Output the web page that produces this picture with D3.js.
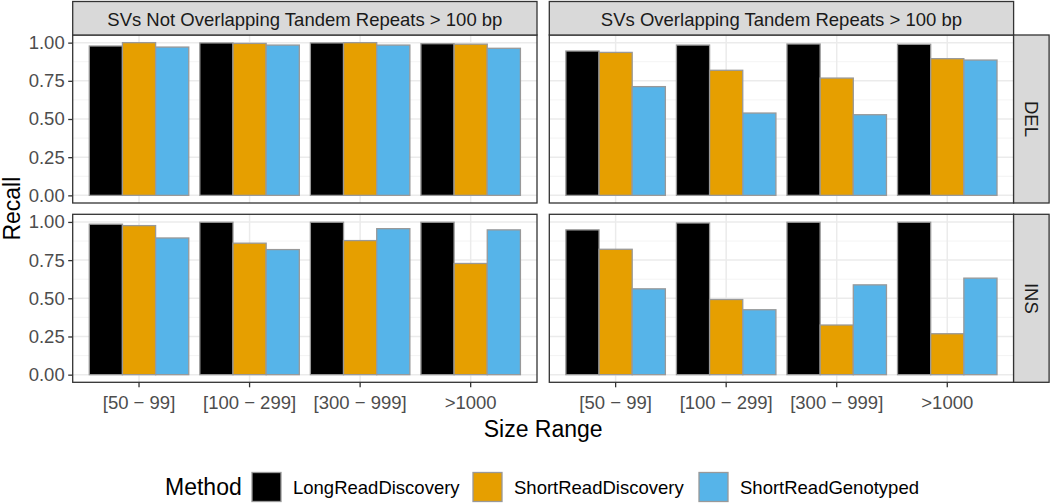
<!DOCTYPE html>
<html><head><meta charset="utf-8">
<script src="https://cdn.jsdelivr.net/npm/d3@7"></script>
<style>body{margin:0;background:#fff}svg{display:block;font-family:"Liberation Sans",Arial,sans-serif}</style>
</head><body><svg id="c" width="1050" height="503"></svg>
<script>
const sizeRanges = ["[50 − 99]", "[100 − 299]", "[300 − 999]", ">1000"];
const methods = ["LongReadDiscovery", "ShortReadDiscovery", "ShortReadGenotyped"];
const methodColors = ["#000000", "#E69F00", "#56B4E9"];
const columns = ["SVs Not Overlapping Tandem Repeats > 100 bp", "SVs Overlapping Tandem Repeats > 100 bp"];
const rows = ["DEL", "INS"];
const yTicks = [0, 0.25, 0.5, 0.75, 1.0];
const yTickLabels = ["0.00", "0.25", "0.50", "0.75", "1.00"];
// recall values: [method][sizeRange]
const delNonTR = [[0.978, 0.998, 0.998, 0.993], [1.000, 0.995, 1.000, 0.990], [0.971, 0.984, 0.984, 0.963]];
const delTR    = [[0.945, 0.984, 0.991, 0.989], [0.936, 0.819, 0.768, 0.895], [0.712, 0.539, 0.528, 0.886]];
const insNonTR = [[0.985, 0.998, 0.998, 0.998], [0.976, 0.861, 0.878, 0.728], [0.895, 0.819, 0.956, 0.948]];
const insTR    = [[0.948, 0.993, 0.998, 0.998], [0.821, 0.492, 0.325, 0.268], [0.562, 0.425, 0.588, 0.632]];
const panelData = [[delNonTR, delTR], [insNonTR, insTR]];

const svg = d3.select("#c");
const FONT = "Liberation Sans, Arial, sans-serif";
const colX = [72.7, 549.3], panelW = 464.3;
const rowY = [35, 214.3], panelH = 168;
const stripTop = 1.5, stripW = 35.5;

const x = d3.scaleBand().domain(sizeRanges).range([0, panelW]).paddingInner(0).paddingOuter(0.1);
const step = x.step();
const xm = d3.scaleBand().domain(methods).range([-0.45 * step, 0.45 * step]);
const y = d3.scaleLinear().domain([-0.05, 1.05]).range([panelH, 0]);
const color = d3.scaleOrdinal().domain(methods).range(methodColors);
const minorTicks = [0.125, 0.375, 0.625, 0.875];

rows.forEach((rowName, r) => {
  columns.forEach((colName, c) => {
    const g = svg.append("g").attr("transform", `translate(${colX[c]},${rowY[r]})`);
    g.append("rect").attr("width", panelW).attr("height", panelH).attr("fill", "#fff");
    g.selectAll(".ymin").data(minorTicks).join("line")
      .attr("x1", 0).attr("x2", panelW).attr("y1", d => y(d)).attr("y2", d => y(d))
      .attr("stroke", "#f2f2f2").attr("stroke-width", 0.9);
    g.selectAll(".ymaj").data(yTicks).join("line")
      .attr("x1", 0).attr("x2", panelW).attr("y1", d => y(d)).attr("y2", d => y(d))
      .attr("stroke", "#ebebeb").attr("stroke-width", 1.5);
    g.selectAll(".xmaj").data(sizeRanges).join("line")
      .attr("x1", d => x(d) + x.bandwidth() / 2).attr("x2", d => x(d) + x.bandwidth() / 2)
      .attr("y1", 0).attr("y2", panelH)
      .attr("stroke", "#ebebeb").attr("stroke-width", 1.5);
    const vals = panelData[r][c];
    const bars = [];
    methods.forEach((m, mi) => sizeRanges.forEach((s, si) => bars.push({m, s, v: vals[mi][si]})));
    g.selectAll(".bar").data(bars).join("rect")
      .attr("x", d => x(d.s) + x.bandwidth() / 2 + xm(d.m))
      .attr("width", xm.bandwidth())
      .attr("y", d => y(d.v))
      .attr("height", d => y(0) - y(d.v))
      .attr("fill", d => color(d.m))
      .attr("stroke", "#999999").attr("stroke-width", 1.3);
    g.append("rect").attr("width", panelW).attr("height", panelH)
      .attr("fill", "none").attr("stroke", "#333333").attr("stroke-width", 1.3);

    if (c === 0) {
      const ax = g.append("g").call(d3.axisLeft(y).tickValues(yTicks).tickFormat((d, i) => yTickLabels[i]).tickSize(4.5).tickPadding(3.5));
      ax.select(".domain").remove();
      ax.selectAll("line").attr("stroke", "#333333").attr("stroke-width", 1.3);
      ax.selectAll("text").attr("fill", "#4d4d4d").style("font-size", "18.5px").style("font-family", FONT);
    }
    if (r === rows.length - 1) {
      const ax = g.append("g").attr("transform", `translate(0,${panelH})`)
        .call(d3.axisBottom(x).tickSize(5).tickPadding(9));
      ax.select(".domain").remove();
      ax.selectAll("line").attr("stroke", "#333333").attr("stroke-width", 1.3);
      ax.selectAll("text").attr("fill", "#4d4d4d").style("font-size", "18.5px").style("font-family", FONT);
    }
    if (r === 0) {
      svg.append("rect").attr("x", colX[c]).attr("y", stripTop).attr("width", panelW).attr("height", rowY[0] - stripTop)
        .attr("fill", "#d9d9d9").attr("stroke", "#333333").attr("stroke-width", 1.3);
      svg.append("text").attr("x", colX[c] + panelW / 2).attr("y", 26.4)
        .attr("text-anchor", "middle")
        .attr("fill", "#1a1a1a").style("font-size", "18.5px").text(colName);
    }
    if (c === columns.length - 1) {
      const sx = colX[c] + panelW;
      svg.append("rect").attr("x", sx).attr("y", rowY[r]).attr("width", stripW).attr("height", panelH)
        .attr("fill", "#d9d9d9").attr("stroke", "#333333").attr("stroke-width", 1.3);
      svg.append("text").attr("transform", `translate(${sx + stripW / 2},${rowY[r] + panelH / 2}) rotate(90)`)
        .attr("text-anchor", "middle").attr("dy", "0.36em")
        .attr("fill", "#1a1a1a").style("font-size", "18.5px").text(rowName);
    }
  });
});

// axis titles
svg.append("text").attr("transform", `translate(20,${(rowY[0] + rowY[1] + panelH) / 2}) rotate(-90)`)
  .attr("text-anchor", "middle")
  .style("font-size", "23px").attr("fill", "#000").text("Recall");
svg.append("text").attr("x", (colX[0] + colX[1] + panelW) / 2).attr("y", 436.5)
  .attr("text-anchor", "middle")
  .style("font-size", "23px").attr("fill", "#000").text("Size Range");

// legend
const legY = 487;
svg.append("text").attr("x", 165).attr("y", legY).attr("dy", "0.36em")
  .style("font-size", "23px").attr("fill", "#000").text("Method");
const keyX = [252, 473, 699];
const keySize = 29;
methods.forEach((m, i) => {
  svg.append("rect").attr("x", keyX[i]).attr("y", legY - keySize / 2).attr("width", keySize).attr("height", keySize)
    .attr("fill", color(m)).attr("stroke", "#999999").attr("stroke-width", 1.3);
  svg.append("text").attr("x", keyX[i] + keySize + 12).attr("y", legY).attr("dy", "0.36em")
    .style("font-size", "18.5px").attr("fill", "#000").text(m);
});
</script></body></html>
